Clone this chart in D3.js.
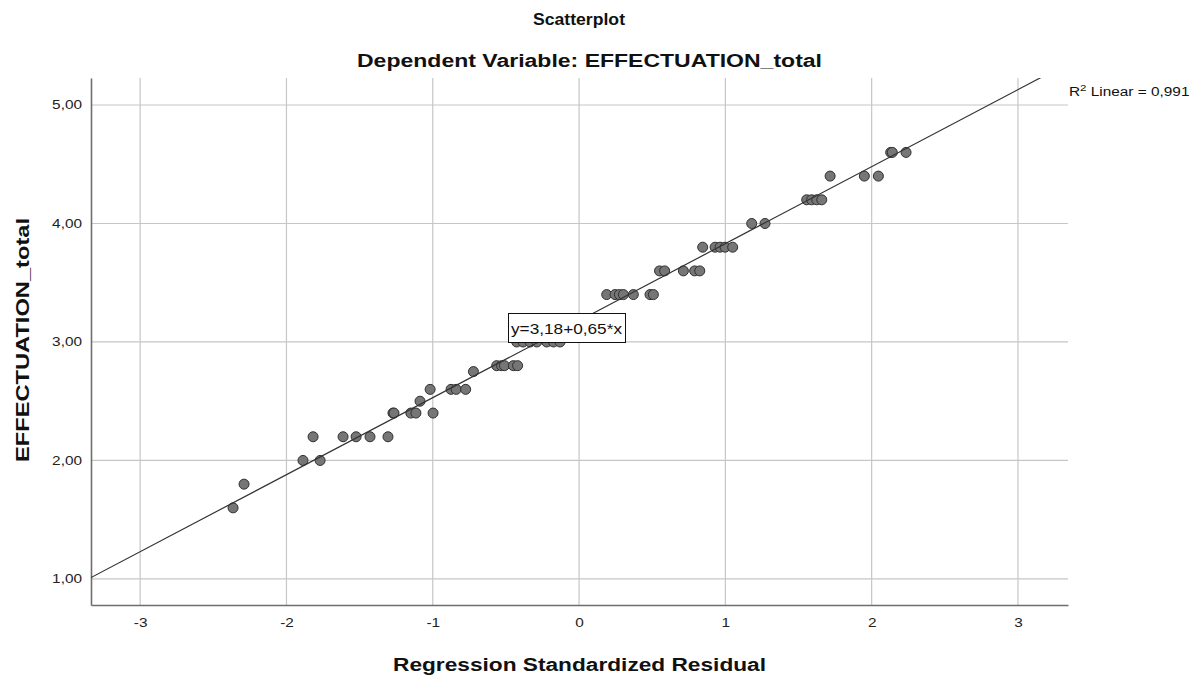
<!DOCTYPE html>
<html>
<head>
<meta charset="utf-8">
<script src="https://cdn.jsdelivr.net/npm/d3@7"></script>
<style>
  html, body { margin: 0; padding: 0; background: #fff; }
  svg { display: block; font-family: "Liberation Sans", Arial, sans-serif; }
</style>
</head>
<body>
<svg id="chart" width="1200" height="684"></svg>
<script>
// ---- Data ----
const titleText = "Scatterplot";
const subtitleText = "Dependent Variable: EFFECTUATION_total";
const xLabelText = "Regression Standardized Residual";
const yLabelText = "EFFECTUATION_total";
const xTicks = [-3, -2, -1, 0, 1, 2, 3];
const yTicks = [1, 2, 3, 4, 5];
const xDomain = [-3.336, 3.342];
const yDomain = [0.78, 5.228];
const fitIntercept = 3.18;
const fitSlope = 0.65;
const fitLabel = "y=3,18+0,65*x";
const r2Value = "0,991";

// standardized residual (x) values for each EFFECTUATION_total level (y)
const pointLevels = [1.6, 1.8, 2.0, 2.2, 2.4, 2.5, 2.6, 2.75, 2.8, 3.0, 3.4, 3.6, 3.8, 4.0, 4.2, 4.4, 4.6];
const pointResiduals = [
  [-2.365],
  [-2.29],
  [-1.887, -1.77],
  [-1.818, -1.613, -1.524, -1.429, -1.306],
  [-1.272, -1.265, -1.15, -1.115, -0.998],
  [-1.087],
  [-1.018, -0.875, -0.84, -0.775],
  [-0.722],
  [-0.563, -0.53, -0.51, -0.449, -0.42],
  [-0.426, -0.383, -0.335, -0.289, -0.221, -0.175, -0.13],
  [0.189, 0.246, 0.276, 0.303, 0.371, 0.485, 0.508],
  [0.55, 0.585, 0.713, 0.79, 0.825],
  [0.845, 0.93, 0.964, 0.998, 1.05],
  [1.18, 1.271],
  [1.556, 1.59, 1.625, 1.659],
  [1.716, 1.95, 2.046],
  [2.13, 2.141, 2.235]
];
const points = [];
pointLevels.forEach((lv, i) => pointResiduals[i].forEach(r => points.push({x: r, y: lv})));

// ---- Layout ----
const STRETCH = 1.28; // reference text is horizontally wide
const svg = d3.select("#chart");
const plot = {left: 91, right: 1068, top: 78, bottom: 605};

const x = d3.scaleLinear().domain(xDomain).range([plot.left, plot.right]);
const y = d3.scaleLinear().domain(yDomain).range([plot.bottom, plot.top]);

const fmtY = v => d3.format(".2f")(v).replace(".", ",");
const fmtX = v => String(v);

// gridlines
svg.append("g").selectAll("line.vg").data(xTicks).join("line")
  .attr("x1", d => x(d)).attr("x2", d => x(d))
  .attr("y1", plot.top).attr("y2", plot.bottom)
  .attr("stroke", "#c6c6c6").attr("stroke-width", 1.2);
svg.append("g").selectAll("line.hg").data(yTicks).join("line")
  .attr("x1", plot.left).attr("x2", plot.right)
  .attr("y1", d => y(d)).attr("y2", d => y(d))
  .attr("stroke", "#c6c6c6").attr("stroke-width", 1.2);

// axes (D3 axes with no tick marks; labels only)
const xAxis = svg.append("g").attr("transform", `translate(0,${plot.bottom})`)
  .call(d3.axisBottom(x).tickValues(xTicks).tickSize(0).tickPadding(13).tickFormat(fmtX));
xAxis.select(".domain").attr("stroke", "#6e6e6e").attr("stroke-width", 1.6);
xAxis.selectAll("text").attr("font-size", 12).attr("fill", "#222")
  .attr("font-family", "Liberation Sans, Arial, sans-serif").classed("stretch", true);

const yAxis = svg.append("g").attr("transform", `translate(${plot.left},0)`)
  .call(d3.axisLeft(y).tickValues(yTicks).tickSize(0).tickPadding(9).tickFormat(fmtY));
yAxis.select(".domain").attr("stroke", "#6e6e6e").attr("stroke-width", 1.6);
yAxis.selectAll("text").attr("font-size", 12).attr("fill", "#222")
  .attr("font-family", "Liberation Sans, Arial, sans-serif").classed("stretch", true);

// clip for fit line
svg.append("clipPath").attr("id", "plotclip").append("rect")
  .attr("x", plot.left).attr("y", plot.top)
  .attr("width", plot.right - plot.left).attr("height", plot.bottom - plot.top);

// points
svg.append("g").selectAll("circle").data(points).join("circle")
  .attr("cx", d => x(d.x)).attr("cy", d => y(d.y)).attr("r", 5)
  .attr("fill", "#767676").attr("stroke", "#303030").attr("stroke-width", 1);

// fit line
const fx0 = xDomain[0], fx1 = xDomain[1];
svg.append("line").attr("clip-path", "url(#plotclip)")
  .attr("x1", x(fx0)).attr("y1", y(fitIntercept + fitSlope * fx0))
  .attr("x2", x(fx1)).attr("y2", y(fitIntercept + fitSlope * fx1))
  .attr("stroke", "#333").attr("stroke-width", 1.2);

// fit label box
const lbl = svg.append("g");
lbl.append("rect").attr("x", 508.5).attr("y", 313.5).attr("width", 117).attr("height", 29)
  .attr("fill", "#fff").attr("stroke", "#111").attr("stroke-width", 1);
lbl.append("text").attr("x", 511).attr("y", 334).attr("font-size", 15).attr("fill", "#111")
  .attr("textLength", 111).attr("lengthAdjust", "spacingAndGlyphs").text(fitLabel);

// R² label
const r2 = svg.append("text").attr("x", 1069).attr("y", 96).attr("font-size", 12).attr("fill", "#111")
  .classed("stretch", true);
r2.append("tspan").text("R");
r2.append("tspan").attr("dy", -5).attr("font-size", 9).text("2");
r2.append("tspan").attr("dy", 5).text(" Linear = " + r2Value);

// titles
svg.append("text").attr("x", 579).attr("y", 25).attr("text-anchor", "middle")
  .attr("font-size", 17).attr("font-weight", "bold").attr("fill", "#111")
  .attr("textLength", 92).attr("lengthAdjust", "spacingAndGlyphs").text(titleText);
svg.append("text").attr("x", 589.5).attr("y", 67).attr("text-anchor", "middle")
  .attr("font-size", 18).attr("font-weight", "bold").attr("fill", "#111")
  .attr("textLength", 465).attr("lengthAdjust", "spacingAndGlyphs").text(subtitleText);

// axis titles
svg.append("text").attr("x", 579.5).attr("y", 671).attr("text-anchor", "middle")
  .attr("font-size", 18).attr("font-weight", "bold").attr("fill", "#111")
  .attr("textLength", 373).attr("lengthAdjust", "spacingAndGlyphs").text(xLabelText);
svg.append("text").attr("transform", "translate(29,340) rotate(-90)").attr("text-anchor", "middle")
  .attr("font-size", 18).attr("font-weight", "bold").attr("fill", "#111")
  .attr("textLength", 244).attr("lengthAdjust", "spacingAndGlyphs").text(yLabelText);

// widen small texts to match the reference's glyph width
svg.selectAll("text.stretch").each(function() {
  const w = this.getComputedTextLength();
  d3.select(this).attr("textLength", w * STRETCH).attr("lengthAdjust", "spacingAndGlyphs");
});
</script>
</body>
</html>
